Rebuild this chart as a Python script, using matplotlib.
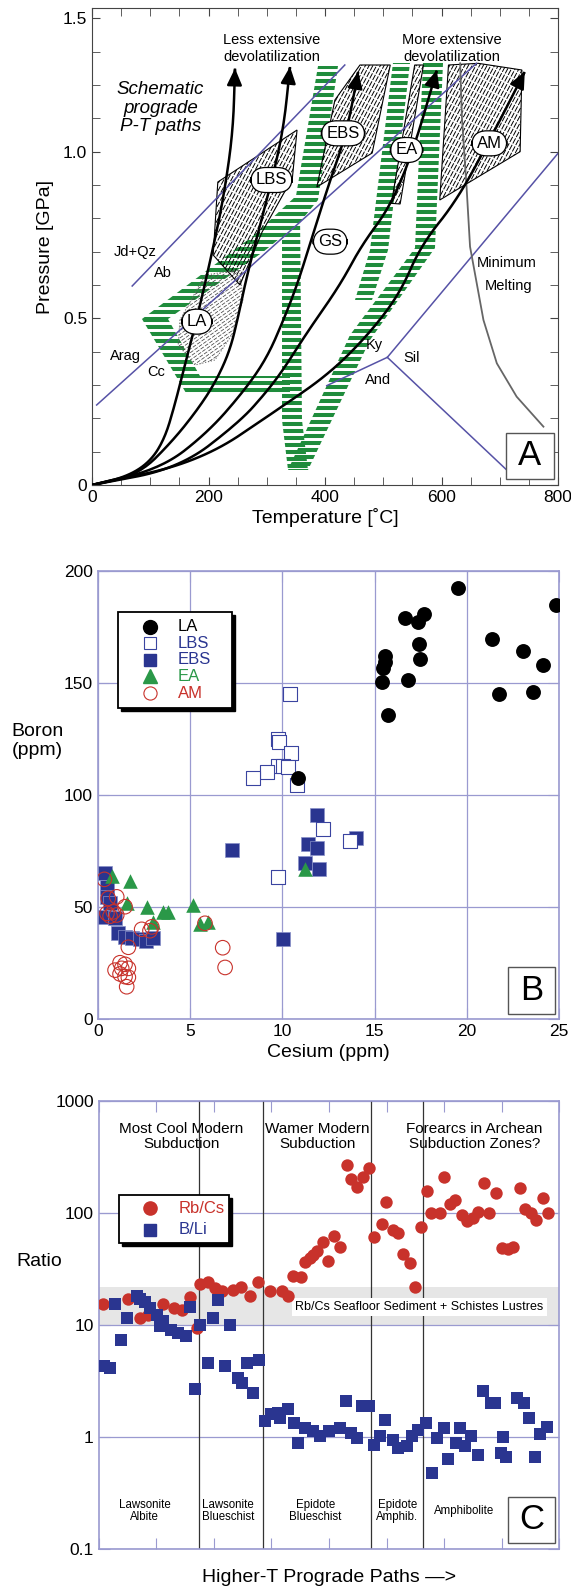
import numpy as np
import matplotlib
matplotlib.use("Agg")
import matplotlib.pyplot as plt
from matplotlib.patches import Polygon, Rectangle
from matplotlib.collections import LineCollection

plt.rcParams['font.family'] = ['Liberation Sans', 'DejaVu Sans']

W, H = 571, 1588
NAVY = '#2a3590'
RED = '#c8322b'
GREEN = '#2a9848'
STRIPE = '#1f8c3c'
SLATE = '#5652a6'
GRID = '#9a9ad0'

# ---------------- Panel A data (T in C, P in GPa) ----------------
path1_T = [0, 60, 100, 125, 142, 155, 167, 185, 209, 225, 242, 245.5]
path1_P = [0, 0.025, 0.07, 0.14, 0.24, 0.33, 0.41, 0.535, 0.72, 0.855, 1.055, 1.25]
path2_T = [0, 80, 140, 185, 214, 237, 251, 263, 280, 300, 328, 340]
path2_P = [0, 0.03, 0.135, 0.235, 0.315, 0.405, 0.505, 0.605, 0.723, 0.855, 1.055, 1.255]
path3_T = [0, 120, 200, 260, 300, 330, 352, 372, 405, 437, 457]
path3_P = [0, 0.05, 0.16, 0.28, 0.38, 0.5, 0.6, 0.71, 0.895, 1.055, 1.24]
path4_T = [0, 150, 254, 300, 330, 370, 426, 463, 512, 552, 592]
path4_P = [0, 0.05, 0.19, 0.28, 0.35, 0.46, 0.6, 0.72, 0.835, 1.005, 1.245]
path5_T = [0, 185, 323, 409, 477, 529, 565, 627, 689, 743]
path5_P = [0, 0.069, 0.231, 0.336, 0.456, 0.576, 0.72, 0.855, 1.055, 1.24]
paths = [(path1_T, path1_P), (path2_T, path2_P), (path3_T, path3_P),
         (path4_T, path4_P), (path5_T, path5_P)]

jdab_T, jdab_P = [69, 434], [0.597, 1.26]
aragcc_T, aragcc_P = [8, 660], [0.24, 1.265]
andky_T, andky_P = [403, 507], [0.298, 0.383]
kysil_T, kysil_P = [507, 800], [0.383, 0.995]
andsil_T, andsil_P = [507, 712], [0.383, 0.045]
melt_T = [632, 635, 643, 649, 672, 695, 729, 775]
melt_P = [1.265, 1.105, 0.895, 0.715, 0.495, 0.365, 0.265, 0.175]

lbs_poly = [(216, 0.909), (352, 1.065), (344, 0.921), (292, 0.759), (254, 0.60), (208, 0.69)]
ebs_poly = [(386, 0.894), (417, 1.155), (460, 1.26), (512, 1.26), (481, 0.996)]
ea_poly = [(514, 0.845), (554, 1.26), (569, 1.26), (529, 0.843)]
am_poly = [(597, 0.855), (612, 1.26), (663, 1.265), (738, 1.245), (735, 1.0), (635, 0.895)]
la_poly = [(194, 0.63), (254, 0.645), (259, 0.555), (240, 0.45), (211, 0.375),
           (177, 0.36), (148, 0.42), (151, 0.495)]

green_bands = [
    [(85.8, 0.498), (276.4, 0.747), (350.2, 0.867), (388, 1.257), (422.3, 1.257),
     (388, 0.855), (357.1, 0.789), (293.6, 0.699), (130.5, 0.498)],
    [(85.8, 0.498), (130.5, 0.498), (185.4, 0.327), (339.9, 0.327), (339.9, 0.276),
     (161.4, 0.276)],
    [(326.2, 0.81), (357.1, 0.81), (360.5, 0.195), (370.8, 0.045), (336.5, 0.045),
     (326.2, 0.195)],
    [(336.5, 0.045), (442.9, 0.45), (554.5, 0.711), (568.2, 1.266), (602.6, 1.266),
     (588.8, 0.711), (477.3, 0.435), (370.8, 0.045)],
    [(516.7, 1.266), (545.9, 1.266), (508.2, 0.705), (480.7, 0.555), (451.5, 0.555),
     (477.3, 0.705)],
]

facies_labels = ['LA', 'LBS', 'EBS', 'EA', 'AM', 'GS']
facies_T = [180, 308, 431, 540, 682, 409]
facies_P = [0.49, 0.915, 1.055, 1.005, 1.025, 0.73]

mineral_labels = ['Jd+Qz', 'Ab', 'Arag', 'Cc', 'Ky', 'Sil', 'And', 'Minimum', 'Melting']
mineral_T = [74, 122, 57, 110, 485, 549, 491, 712, 715]
mineral_P = [0.70, 0.637, 0.387, 0.34, 0.42, 0.382, 0.315, 0.667, 0.597]

# ---------------- Panel B data (Cs, B in ppm) ----------------
la_cs = [19.54, 24.83, 16.65, 17.68, 17.37, 17.4, 17.46, 16.83, 15.56, 15.56, 15.47,
         15.38, 15.74, 21.34, 23.02, 24.1, 21.76, 23.56, 10.87]
la_b = [192.3, 184.9, 179.1, 180.9, 177.1, 167.2, 160.8, 151.4, 161.8, 159.3, 156.4,
        150.4, 135.5, 169.4, 164.2, 158.1, 144.9, 145.9, 107.3]
lbs_cs = [10.42, 9.78, 9.82, 10.47, 9.78, 10.05, 10.33, 9.15, 8.43, 10.81, 12.22, 9.78, 13.67]
lbs_b = [144.8, 125.1, 123.6, 118.5, 112.8, 112.8, 112.5, 110.3, 107.3, 104.3, 84.6, 63.4, 79.5]
ebs_cs = [11.86, 11.41, 11.86, 11.23, 12.0, 13.99, 10.05, 7.29, 0.4, 0.49, 0.49, 0.4,
          0.94, 1.12, 1.48, 1.84, 2.27, 2.63, 3.0, 0.67]
ebs_b = [90.9, 78, 76.5, 69.4, 66.7, 80.6, 35.5, 75.3, 65, 59, 54.5, 45.6,
         44.9, 38.2, 36.7, 36, 35.5, 34.7, 36, 51.6]
ea_cs = [0.76, 1.75, 1.57, 2.65, 3.01, 3.55, 3.82, 5.15, 5.54, 5.99, 11.23]
ea_b = [63.8, 61.5, 51.6, 50.1, 43.1, 47.6, 47.8, 50.8, 42.4, 43.4, 66.9]
am_cs = [0.36, 0.57, 1.03, 1.48, 0.85, 0.67, 1.03, 0.5, 2.38, 2.93, 2.83, 1.66, 0.94,
         1.21, 1.48, 1.66, 1.21, 1.48, 1.66, 1.57, 1.3, 5.81, 6.77, 6.9]
am_b = [62.3, 53.8, 54.5, 50.1, 47.8, 45.9, 46.4, 47.1, 40, 41.1, 39.4, 32, 21.8,
        25.1, 24.4, 22.6, 20.1, 18.9, 18.6, 14.4, 22.6, 42.7, 31.8, 23]

# ---------------- Panel C data (sample order, ratio) ----------------
rbcs_x = [0.8, 5.1, 7.2, 8.6, 11.2, 13.0, 14.4, 15.9, 17.0, 17.6, 19.0, 20.2, 21.5, 23.4,
          24.8, 26.3, 27.7, 29.8, 31.8, 32.9, 33.8, 35.1, 35.8, 36.7, 37.3, 38.0, 39.0,
          39.9, 40.9, 41.9, 43.1, 43.9, 44.9, 45.9, 47.0, 47.9, 49.2, 49.9, 51.2, 52.0,
          52.9, 54.0, 54.9, 55.9, 57.0, 57.8, 59.2, 59.9, 61.0, 61.9, 63.1, 63.9, 65.0,
          65.9, 66.9, 67.8, 69.0, 70.0, 71.1, 72.0, 73.1, 74.0, 75.0, 76.0, 77.1, 78.0]
rbcs_y = [15.3, 17.1, 11.5, 12.3, 15.3, 14.1, 13.6, 17.5, 9.3, 23, 24.3, 21.2, 19.8, 20.5,
          21.5, 17.9, 24, 19.8, 19.8, 17.9, 27, 26.4, 36.6, 39.2, 42, 45.7, 55.3,
          37.2, 62.5, 49.9, 267, 200, 171, 210, 252, 61, 79.4, 124, 70.2, 65.5,
          42.6, 35.4, 21.5, 74.1, 157, 98.8, 98.8, 210, 119, 130, 95.5, 84.5, 89.2,
          102, 183, 98.8, 151, 48.2, 47.6, 48.9, 167, 109, 98.8, 86.3, 136, 98.8]
bli_x = [0.85, 2.0, 2.8, 3.9, 4.9, 6.6, 7.2, 8.0, 8.9, 10.1, 10.6, 11.2, 12.5, 13.8, 15.1,
         15.9, 16.8, 17.6, 18.9, 19.9, 20.8, 21.9, 22.8, 24.2, 24.9, 25.8, 26.8, 27.8,
         28.8, 29.9, 31.2, 31.5, 32.8, 34.0, 34.7, 35.9, 37.2, 38.4, 40.0, 41.9, 42.9,
         43.8, 44.8, 45.7, 47.0, 47.9, 48.9, 49.8, 51.1, 52.0, 53.5, 54.5, 55.5, 56.8,
         57.9, 58.7, 59.9, 60.7, 62.1, 62.8, 63.7, 64.7, 65.9, 66.7, 68.1, 68.8, 69.9,
         70.2, 70.7, 72.7, 73.8, 74.8, 75.8, 76.7, 77.9]
bli_y = [4.25, 4.1, 15.3, 7.35, 11.5, 17.9, 17, 16, 14.1, 12.3, 9.65, 10.7, 9.0, 8.4, 7.9,
         14.3, 2.64, 10, 4.55, 11.5, 16.7, 4.25, 10, 3.34, 3.02, 4.55, 2.46, 4.88,
         1.37, 1.58, 1.63, 1.47, 1.75, 1.33, 0.88, 1.2, 1.12, 1.01, 1.12, 1.2, 2.07,
         1.08, 0.98, 1.87, 1.87, 0.85, 1.01, 1.42, 0.94, 0.79, 0.82, 1.01, 1.15, 1.33,
         0.475, 0.98, 1.2, 0.63, 0.88, 1.2, 0.82, 1.01, 0.69, 2.55, 2.0, 2.0,
         0.72, 1.0, 0.66, 2.22, 2.0, 1.47, 0.66, 1.05, 1.21]
field_bounds = [17.4, 28.5, 47.35, 56.3]
field_names = ['Lawsonite\nAlbite', 'Lawsonite\nBlueschist', 'Epidote\nBlueschist',
               'Epidote\nAmphib.', 'Amphibolite']
field_centers = [8.0, 22.5, 37.6, 51.9, 63.4]
seafloor_lo, seafloor_hi = 10, 21.5


def box(l, t, r, b):
    return [l / W, 1 - b / H, (r - l) / W, (b - t) / H]


def chaikin(xs, ys, n=4):
    pts = np.column_stack([xs, ys]).astype(float)
    for _ in range(n):
        q = 0.75 * pts[:-1] + 0.25 * pts[1:]
        r = 0.25 * pts[:-1] + 0.75 * pts[1:]
        new = np.empty((2 * len(q), 2))
        new[0::2], new[1::2] = q, r
        pts = np.vstack([pts[:1], new, pts[-1:]])
    return pts[:, 0], pts[:, 1]


def striped(ax, poly, angle, step, lw, color, z, ls='-', edge=None, edge_ls='-'):
    # fill a polygon with parallel strokes (step in pixels), clipped to the polygon
    patch = Polygon(poly, closed=True, fc='none', ec=edge if edge else 'none',
                    lw=0.8, ls=edge_ls, zorder=z + 0.1)
    ax.add_patch(patch)
    pts = ax.transData.transform(poly)
    c = pts.mean(axis=0)
    R = np.hypot(*(pts - c).T).max() + step
    th = np.deg2rad(angle)
    d = np.array([np.cos(th), np.sin(th)])
    nrm = np.array([-d[1], d[0]])
    inv = ax.transData.inverted()
    segs = []
    for o in np.arange(-R, R, step):
        seg = np.array([c + nrm * o - d * R, c + nrm * o + d * R])
        segs.append(inv.transform(seg))
    lc = LineCollection(segs, colors=color, linewidths=lw, linestyles=ls, zorder=z)
    ax.add_collection(lc)
    lc.set_clip_path(patch)


def letter_box(ax, x0, y0, x1, y1, s):
    ax.add_patch(Rectangle((x0, y0), x1 - x0, y1 - y0, transform=ax.transAxes,
                           facecolor='white', edgecolor='#555555', lw=1.0, zorder=10))
    ax.text((x0 + x1) / 2, (y0 + y1) / 2, s, transform=ax.transAxes, ha='center',
            va='center', fontsize=25, zorder=11)


def legend_box(ax, x0, y0, x1, y1, mx, tx, rows, entries, fs):
    dx, dy = 0.0068, 0.0068
    ax.add_patch(Rectangle((x0 + dx, y0 - dy), x1 - x0, y1 - y0, transform=ax.transAxes,
                           facecolor='k', edgecolor='k', lw=1, zorder=20, clip_on=False))
    ax.add_patch(Rectangle((x0, y0), x1 - x0, y1 - y0, transform=ax.transAxes,
                           facecolor='white', edgecolor='k', lw=1.3, zorder=21,
                           clip_on=False))
    for ry, (label, color, mk) in zip(rows, entries):
        ax.plot([mx], [ry], ls='', transform=ax.transAxes, zorder=22, clip_on=False, **mk)
        ax.text(tx, ry, label, color=color, transform=ax.transAxes, fontsize=fs,
                ha='left', va='center', zorder=22)


fig = plt.figure(figsize=(W / 100, H / 100), dpi=100)

# ======================= Panel A =======================
axA = fig.add_axes(box(92, 8, 558, 485))
axA.set_xlim(0, 800)
axA.set_ylim(0, 1.431)

for poly in green_bands:
    striped(axA, poly, 0, 7.0, 2.9, STRIPE, 1)
for poly in [lbs_poly, ebs_poly, ea_poly, am_poly]:
    striped(axA, poly, 62, 3.3, 0.7, 'k', 2, ls=(0, (6, 1.5)), edge='k')
striped(axA, la_poly, 35, 3.0, 0.55, '#444444', 2, ls=(0, (5, 2)), edge='#666666',
        edge_ls=':')

for T, P in [(jdab_T, jdab_P), (aragcc_T, aragcc_P), (andky_T, andky_P),
             (kysil_T, kysil_P), (andsil_T, andsil_P)]:
    axA.plot(T, P, color=SLATE, lw=1.1, zorder=3)
axA.plot(melt_T, melt_P, color='#666666', lw=1.3, zorder=3)

for T, P in paths:
    sx, sy = chaikin(T, P)
    axA.plot(sx[:-3], sy[:-3], color='k', lw=1.8, zorder=5)
    axA.annotate('', xy=(sx[-1], sy[-1]), xytext=(sx[-4], sy[-4]),
                 arrowprops=dict(arrowstyle='-|>,head_length=1.0,head_width=0.45',
                                 color='k', lw=1.8, shrinkA=0, shrinkB=0), zorder=6)

for s, t, p in zip(facies_labels, facies_T, facies_P):
    axA.text(t, p, s, ha='center', va='center', fontsize=12, zorder=8,
             bbox=dict(boxstyle='round,pad=0.3,rounding_size=0.9', fc='white',
                       ec='k', lw=0.9))
for s, t, p in zip(mineral_labels, mineral_T, mineral_P):
    axA.text(t, p, s, ha='center', va='center', fontsize=10.5, zorder=8)

axA.text(0.147, 0.79, 'Schematic\nprograde\nP-T paths', transform=axA.transAxes,
         ha='center', va='center', fontsize=13.5, style='italic', linespacing=1.1)
axA.text(0.385, 0.915, 'Less extensive\ndevolatilization', transform=axA.transAxes,
         ha='center', va='center', fontsize=10.5)
axA.text(0.773, 0.915, 'More extensive\ndevolatilization', transform=axA.transAxes,
         ha='center', va='center', fontsize=10.5)
letter_box(axA, 0.888, 0.012, 0.991, 0.110, 'A')

axA.set_xticks([0, 200, 400, 600, 800])
axA.set_xticks(np.arange(0, 801, 50), minor=True)
axA.set_yticks([0, 0.5, 1.0, 1.4])
axA.set_yticklabels(['0', '0.5', '1.0', '1.5'])
axA.set_yticks(np.arange(0, 1.43, 0.1), minor=True)
axA.tick_params(which='both', direction='in', top=True, right=True, labelsize=12.5,
                color='#444444', length=6)
for sp in axA.spines.values():
    sp.set_color('#444444')
axA.set_xlabel('Temperature [˚C]', fontsize=14, labelpad=2)
axA.set_ylabel('Pressure [GPa]', fontsize=14, labelpad=6)

# ======================= Panel B =======================
axB = fig.add_axes(box(97.7, 570.7, 559.3, 1019))
axB.set_xlim(0, 25)
axB.set_ylim(0, 200)
axB.set_xticks([0, 5, 10, 15, 20, 25])
axB.set_yticks([0, 50, 100, 150, 200])
axB.grid(True, color=GRID, lw=0.9)
axB.set_axisbelow(True)
axB.tick_params(direction='in', length=8, color=GRID, labelsize=12.5, top=True, right=True)
for sp in axB.spines.values():
    sp.set_color(GRID)
    sp.set_linewidth(1.2)

axB.scatter(ebs_cs, ebs_b, s=95, marker='s', c=NAVY, edgecolors='#8890c8', lw=0.5, zorder=3)
axB.scatter(lbs_cs, lbs_b, s=95, marker='s', facecolors='white', edgecolors='#3a44a0',
            lw=0.8, zorder=3)
axB.scatter(ea_cs, ea_b, s=110, marker='^', c=GREEN, lw=0, zorder=4)
axB.scatter(am_cs, am_b, s=110, marker='o', facecolors='none', edgecolors=RED, lw=0.8, zorder=4)
axB.scatter(la_cs, la_b, s=115, marker='o', c='k', lw=0, zorder=5)

legend_box(axB, 0.0446, 0.6931, 0.2903, 0.9072, 0.1133, 0.174,
           [0.875, 0.838, 0.801, 0.764, 0.727],
           [('LA', 'k', dict(marker='o', ms=10, mfc='k', mec='k')),
            ('LBS', NAVY, dict(marker='s', ms=9, mfc='white', mec='#3a44a0', mew=0.8)),
            ('EBS', NAVY, dict(marker='s', ms=9, mfc=NAVY, mec=NAVY)),
            ('EA', GREEN, dict(marker='^', ms=10, mfc=GREEN, mec=GREEN)),
            ('AM', RED, dict(marker='o', ms=9.5, mfc='none', mec=RED, mew=0.8))], 12)
letter_box(axB, 0.888, 0.012, 0.991, 0.115, 'B')
axB.set_xlabel('Cesium (ppm)', fontsize=14, labelpad=4)
axB.set_ylabel('Boron\n(ppm)', fontsize=14, rotation=0, ha='center', va='center',
               labelpad=0)
axB.yaxis.set_label_coords(-0.13, 0.62)

# ======================= Panel C =======================
axC = fig.add_axes(box(98.7, 1100.7, 559.3, 1548.7))
axC.set_yscale('log')
axC.set_xlim(0, 80)
axC.set_ylim(0.1, 1000)
axC.set_yticks([0.1, 1, 10, 100, 1000])
axC.set_yticklabels(['0.1', '1', '10', '100', '1000'])
axC.yaxis.set_minor_locator(matplotlib.ticker.NullLocator())
axC.set_xticks(np.arange(0, 81, 10))
axC.set_xticklabels([])
axC.grid(True, axis='y', color=GRID, lw=0.9)
axC.set_axisbelow(True)
axC.tick_params(direction='in', length=8, color=GRID, labelsize=12.5, top=True, right=True)
for sp in axC.spines.values():
    sp.set_color(GRID)
    sp.set_linewidth(1.2)

axC.axhspan(seafloor_lo, seafloor_hi, color='#e6e6e6', zorder=0.5, lw=0)
axC.text(0.966, 0.54, 'Rb/Cs Seafloor Sediment + Schistes Lustres',
         transform=axC.transAxes, ha='right', va='center', fontsize=9.0, zorder=2,
         bbox=dict(boxstyle='square,pad=0.25', fc='white', ec='none'))
for xb in field_bounds:
    axC.axvline(xb, color='#333333', lw=0.9, zorder=1)

axC.scatter(rbcs_x, rbcs_y, s=80, marker='o', c=RED, lw=0, zorder=3)
axC.scatter(bli_x, bli_y, s=85, marker='s', c=NAVY, lw=0, zorder=4)

for s, xc in zip(field_names, field_centers):
    axC.text(xc, 0.215, s, ha='center', va='center', fontsize=8.3, linespacing=1.0)
axC.text(0.18, 0.92, 'Most Cool Modern\nSubduction', transform=axC.transAxes,
         ha='center', va='center', fontsize=11, linespacing=1.1)
axC.text(0.475, 0.92, 'Wamer Modern\nSubduction', transform=axC.transAxes,
         ha='center', va='center', fontsize=11, linespacing=1.1)
axC.text(0.816, 0.92, 'Forearcs in Archean\nSubduction Zones?', transform=axC.transAxes,
         ha='center', va='center', fontsize=11, linespacing=1.1)

legend_box(axC, 0.0447, 0.6817, 0.2836, 0.7895, 0.1114, 0.1728, [0.7598, 0.7114],
           [('Rb/Cs', RED, dict(marker='o', ms=9.5, mfc=RED, mec=RED)),
            ('B/Li', NAVY, dict(marker='s', ms=9, mfc=NAVY, mec=NAVY))], 12)
letter_box(axC, 0.889, 0.013, 0.99, 0.116, 'C')
axC.set_ylabel('Ratio', fontsize=14, rotation=0, ha='center', va='center')
axC.yaxis.set_label_coords(-0.13, 0.64)
axC.set_xlabel('Higher-T Prograde Paths —>', fontsize=14, labelpad=11)

fig.savefig('out.png', dpi=100)
